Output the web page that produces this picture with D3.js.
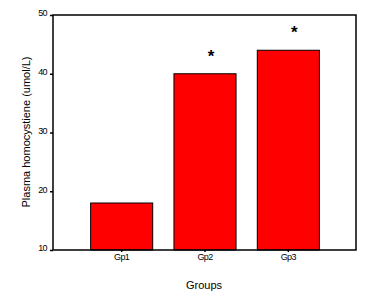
<!DOCTYPE html>
<html><head><meta charset="utf-8">
<script src="https://cdn.jsdelivr.net/npm/d3@7"></script>
<style>body{margin:0;background:#fff}svg{display:block}</style>
</head><body>
<script>
const categories = ["Gp1", "Gp2", "Gp3"];
const values = [18, 40, 44];
const significant = [false, true, true];
const yTicks = [10, 20, 30, 40, 50];

(function () {
const W = 372, H = 300;
const svg = d3.select("body").append("svg").attr("width", W).attr("height", H);
const mLeft = 53, mRight = 356, mTop = 15, mBottom = 250;
const font = "Liberation Sans, Arial, sans-serif";

const y = d3.scaleLinear().domain([10, 50]).range([mBottom, mTop]);
const x = d3.scaleBand().domain(categories).range([80, 330]).paddingInner(0.255).paddingOuter(0.1275);

// bars
svg.selectAll("rect.bar").data(values).join("rect")
  .attr("x", (d, i) => x(categories[i]))
  .attr("y", d => y(d))
  .attr("width", x.bandwidth())
  .attr("height", d => y(10) - y(d))
  .attr("fill", "#ff0000").attr("stroke", "#000").attr("stroke-width", 1);

// asterisks
svg.selectAll("text.star").data(values.map((v, i) => ({v, i})).filter(d => significant[d.i])).join("text")
  .attr("x", d => x(categories[d.i]) + x.bandwidth() / 2 + 6)
  .attr("y", d => y(d.v) - 12)
  .attr("text-anchor", "middle")
  .attr("font-family", font).attr("font-weight", "bold").attr("font-size", 17)
  .text("*");

// frame
svg.append("rect").attr("x", mLeft).attr("y", mTop).attr("width", mRight - mLeft).attr("height", mBottom - mTop)
  .attr("fill", "none").attr("stroke", "#000").attr("stroke-width", 1.5);

// y axis
const yAxis = svg.append("g").attr("transform", `translate(${mLeft},0)`)
  .call(d3.axisLeft(y).tickValues(yTicks).tickSize(3).tickPadding(3));
yAxis.select(".domain").remove();
yAxis.selectAll("line").attr("stroke", "#000").attr("stroke-width", 1.5);
yAxis.selectAll("text").attr("font-family", font).attr("font-size", 9).attr("letter-spacing", -0.6).attr("fill", "#000").attr("dy", "0.1em");

// x axis
const xAxis = svg.append("g").attr("transform", `translate(0,${mBottom})`)
  .call(d3.axisBottom(x).tickSize(2).tickPadding(2));
xAxis.select(".domain").remove();
xAxis.selectAll("line").attr("stroke", "#000").attr("stroke-width", 1.5);
xAxis.selectAll("text").attr("font-family", font).attr("font-size", 9).attr("letter-spacing", -0.6).attr("fill", "#000");

// titles
svg.append("text").attr("x", 204).attr("y", 289).attr("text-anchor", "middle")
  .attr("font-family", font).attr("font-size", 11).attr("fill", "#000").text("Groups");
svg.append("text").attr("transform", `translate(30,132) rotate(-90)`).attr("text-anchor", "middle")
  .attr("font-family", font).attr("font-size", 11).attr("fill", "#000").text("Plasma homocystiene (umol/L)");
})();
</script>
</body></html>
